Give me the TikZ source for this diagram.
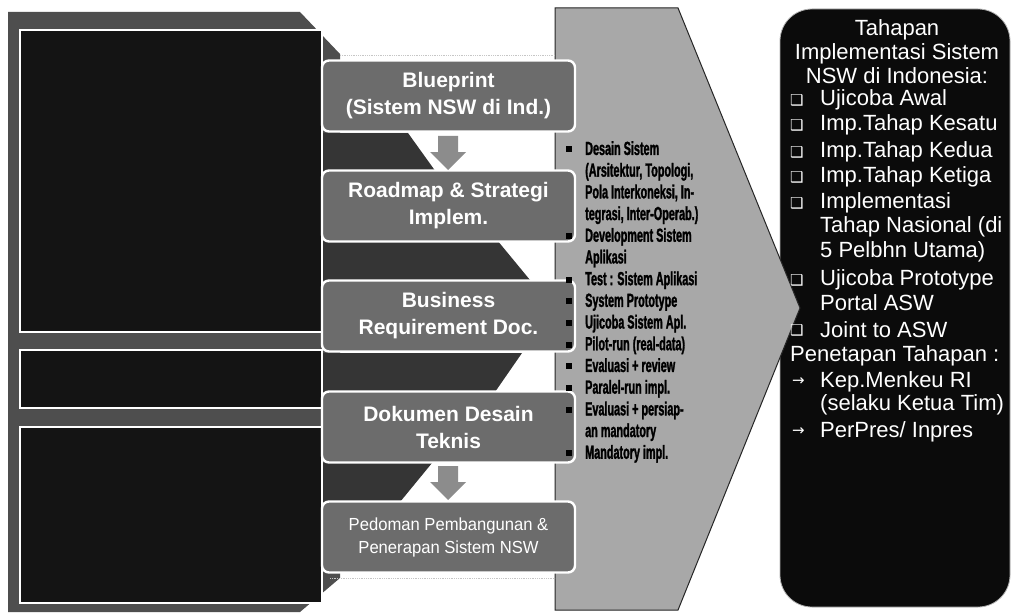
\documentclass[tikz,border=0pt]{standalone}
\usepackage{fontspec}
\setmainfont{Liberation Sans}
\newfontfamily\narrowfont[FakeStretch=0.57, FakeBold=1.4]{Liberation Sans Bold}
\newfontfamily\stepfont[FakeStretch=0.95]{Liberation Sans}
\newfontfamily\symfont{DejaVu Sans}
\definecolor{outerdark}{HTML}{4E4E4E}
\definecolor{banddark}{HTML}{353535}
\definecolor{boxblack}{HTML}{141414}
\definecolor{stepgray}{HTML}{6C6C6C}
\definecolor{arrowgray}{HTML}{A8A8A8}
\definecolor{downgray}{HTML}{8C8C8C}
\definecolor{rightblack}{HTML}{0B0B0B}
\tikzset{
  blackbox/.style={draw=white, line width=2.6pt, fill=boxblack, minimum width=302pt, inner sep=0pt},
  stepbox/.style={draw=white, line width=2.4pt, fill=stepgray, rounded corners=7pt, minimum width=253pt, minimum height=71pt, inner sep=0pt, align=center, text=white},
  steptext/.style={font=\bfseries\fontsize{21}{27}\selectfont},
  smalltext/.style={font=\stepfont\fontsize{17.5}{23}\selectfont},
  rtext/.style={text=white, anchor=west, inner sep=0pt, font=\fontsize{22}{25}\selectfont},
  rbullet/.style={text=white, anchor=west, inner sep=0pt, font=\symfont\fontsize{15}{15}\selectfont},
  rarrow/.style={text=white, anchor=west, inner sep=0pt, font=\symfont\fontsize{15}{15}\selectfont},
}
\newcommand{\sqb}{\makebox[0pt][r]{\raisebox{2.5pt}{\rule{6pt}{6pt}}\hspace{13pt}}}
\begin{document}
\begin{tikzpicture}[x=1pt,y=-1pt]
\useasboundingbox (0,0) rectangle (1017,615);
\fill[white] (0,0) rectangle (1017,615);

% right box
\node[fill=rightblack, draw=gray!60, line width=0.8pt, rounded corners=32pt, minimum width=230pt, minimum height=598pt, inner sep=0pt] (rb) at (895,308) {};

% big gray arrow
\fill[arrowgray, draw=black!85, line width=1pt] (555,8) -- (678,8) -- (800,308) -- (678,610) -- (555,610) -- cycle;

% left dark panel
\fill[outerdark] (8,12) -- (300,12) -- (340,54) -- (340,578) -- (300,612) -- (8,612) -- cycle;
\draw[gray!45, densely dotted, line width=0.8pt] (340,55) -- (555,55);
\draw[gray!45, densely dotted, line width=0.8pt] (330,578) -- (555,578);

% bands between steps
\fill[banddark] (322,133) -- (408,133) -- (436,172) -- (322,172) -- cycle;
\fill[banddark] (322,240) -- (497,240) -- (530,280) -- (322,280) -- cycle;
\fill[banddark] (322,353) -- (522,353) -- (495,392) -- (322,392) -- cycle;
\fill[banddark] (322,463) -- (432,463) -- (400,502) -- (322,502) -- cycle;

% black panels
\node[blackbox, minimum height=302pt] (la) at (171,181) {};
\node[blackbox, minimum height=58pt] (lb) at (171,379) {};
\node[blackbox, minimum height=176pt] (lc) at (171,515) {};

% step boxes
\node[stepbox, steptext] (b1) at (448.5,96) {Blueprint\\(Sistem NSW di Ind.)};
\node[stepbox, steptext] (b2) at (448.5,206) {Roadmap \& Strategi\\Implem.};
\node[stepbox, steptext] (b3) at (448.5,316) {Business\\Requirement Doc.};
\node[stepbox, steptext] (b4) at (448.5,427) {Dokumen Desain\\Teknis};
\node[stepbox, smalltext] (b5) at (448.5,537) {Pedoman Pembangunan \&\\Penerapan Sistem NSW};

% down arrows
\fill[downgray] (438,136) -- (458,136) -- (458,152) -- (466,152) -- (448,170) -- (430,152) -- (438,152) -- cycle;
\fill[downgray] (438,466) -- (458,466) -- (458,482) -- (466,482) -- (448,500) -- (430,482) -- (438,482) -- cycle;

% text on the gray arrow
\node[anchor=north west, align=left, inner sep=0pt, font=\narrowfont\fontsize{19}{21.7}\selectfont] (steps) at (585,141) {%
\sqb Desain Sistem\\
(Arsitektur, Topologi,\\
Pola Interkoneksi, In-\\
tegrasi, Inter-Operab.)\\
\sqb Development Sistem\\
Aplikasi\\
\sqb Test : Sistem Aplikasi\\
\sqb System Prototype\\
\sqb Ujicoba Sistem Apl.\\
\sqb Pilot-run (real-data)\\
\sqb Evaluasi + review\\
\sqb Paralel-run impl.\\
\sqb Evaluasi + persiap-\\
an mandatory\\
\sqb Mandatory impl.};

% right box text
\node[text=white, align=center, inner sep=0pt, font=\fontsize{22}{24}\selectfont] (title) at (897,52) {Tahapan\\Implementasi Sistem\\NSW di Indonesia:};
\foreach \n/\y in {1/100,2/125,3/152,4/177,5/203,6/280,7/330}
  \node[rbullet] (q\n) at (790,\y) {❑};
\node[rtext] (t1) at (820,100) {Ujicoba Awal};
\node[rtext] (t2) at (820,125) {Imp.Tahap Kesatu};
\node[rtext] (t3) at (820,152) {Imp.Tahap Kedua};
\node[rtext] (t4) at (820,177) {Imp.Tahap Ketiga};
\node[rtext] (t5) at (820,203) {Implementasi};
\node[rtext] (t5b) at (820,227) {Tahap Nasional (di};
\node[rtext] (t5c) at (820,252) {5 Pelbhn Utama)};
\node[rtext] (t6) at (820,280) {Ujicoba Prototype};
\node[rtext] (t6b) at (820,303) {Portal ASW};
\node[rtext] (t7) at (820,330) {Joint to ASW};
\node[rtext] (pt) at (790,356) {Penetapan Tahapan :};
\node[rarrow] (a1) at (792,382) {→};
\node[rtext] (k1) at (820,382) {Kep.Menkeu RI};
\node[rtext] (k1b) at (820,405) {(selaku Ketua Tim)};
\node[rarrow] (a2) at (792,432) {→};
\node[rtext] (k2) at (820,432) {PerPres/ Inpres};
\end{tikzpicture}
\end{document}
